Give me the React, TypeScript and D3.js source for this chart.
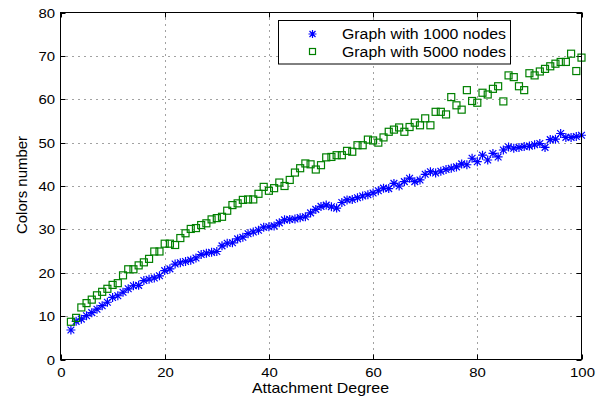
import React from 'react'
import * as d3 from 'd3';

// attachment degree 2..100
const degrees: number[] = d3.range(2, 101);

const colors1000: number[] = [
  6.8, 8.8, 9.3, 10.1, 10.8, 11.6, 12.4, 13.2, 14.3, 14.7,
  15.5, 16.3, 17.0, 17.1, 18.2, 18.5, 18.8, 19.3, 20.5, 20.9,
  22.0, 22.3, 22.6, 22.9, 23.4, 24.2, 24.5, 24.7, 24.9, 26.2,
  26.8, 26.9, 27.8, 28.2, 29.0, 29.4, 29.8, 30.5, 30.6, 30.8,
  31.5, 32.2, 32.3, 32.4, 32.7, 32.9, 33.8, 34.6, 35.3, 35.6,
  35.2, 34.9, 36.2, 36.8, 36.9, 37.3, 37.7, 38.0, 38.4, 38.9,
  39.5, 39.4, 40.6, 40.0, 41.0, 41.8, 41.0, 41.4, 42.7, 43.3,
  43.0, 43.4, 43.8, 44.1, 44.4, 45.1, 44.9, 46.4, 45.6, 47.1,
  46.0, 47.5, 46.7, 48.3, 49.0, 48.7, 48.9, 49.1, 49.2, 49.5,
  49.8, 48.9, 50.7, 50.8, 52.1, 51.2, 51.2, 51.4, 51.7
];

const colors5000: number[] = [
  8.7, 9.6, 12.0, 13.0, 13.8, 14.8, 15.6, 16.3, 17.2, 17.6,
  19.4, 20.8, 20.8, 21.7, 22.4, 23.2, 24.9, 24.9, 26.7, 26.7,
  26.4, 28.0, 29.1, 30.1, 30.3, 31.0, 31.4, 32.3, 32.6, 32.9,
  34.3, 35.6, 36.0, 36.8, 36.9, 36.9, 38.2, 39.8, 38.9, 39.5,
  40.8, 40.0, 41.4, 43.1, 44.1, 45.2, 45.0, 43.8, 44.8, 46.6,
  46.7, 47.1, 47.1, 48.1, 47.9, 49.4, 49.4, 50.7, 50.5, 50.0,
  51.2, 52.5, 53.0, 53.5, 52.5, 53.6, 54.6, 54.0, 55.6, 54.0,
  57.1, 57.1, 56.5, 60.5, 58.6, 57.6, 62.1, 59.6, 59.2, 61.5,
  61.1, 62.4, 63.0, 59.5, 65.5, 65.1, 63.0, 62.1, 66.0, 65.5,
  66.4, 67.0, 67.6, 68.2, 68.6, 68.6, 70.5, 66.5, 69.6
];

const xTicks: number[] = [0, 20, 40, 60, 80, 100];
const yTicks: number[] = [0, 10, 20, 30, 40, 50, 60, 70, 80];
const seriesNames: string[] = ['Graph with 1000 nodes', 'Graph with 5000 nodes'];

const width = 602;
const height = 397;
const font = '"Liberation Sans", Arial, Helvetica, sans-serif';

const star = (r: number) => {
  const d = r * 0.75;
  return `M${-r},0H${r}M0,${-r}V${r}M${-d},${-d}L${d},${d}M${-d},${d}L${d},${-d}`;
};

const App: React.FC = () => {
  const left = 60.5, right = 581.5, top = 12.5, bottom = 359.5;

  const x = d3.scaleLinear().domain([0, 100]).range([left, right]);
  const y = d3.scaleLinear().domain([0, 80]).range([bottom, top]);

  const blue = '#0000ff';
  const green = '#008000';

  return (
    <svg width={width} height={height} style={{position: 'absolute', left: 0, top: 0, background: '#fff'}}>
      <rect x={0} y={0} width={width} height={height} fill='#fff' />

      {/* dotted grid */}
      {xTicks.slice(1, -1).map(t => (
        <line key={'gx' + t} x1={Math.round(x(t)) + 0.5} x2={Math.round(x(t)) + 0.5} y1={top} y2={bottom}
          stroke='#444' strokeDasharray='1 5' />
      ))}
      {yTicks.slice(1, -1).map(t => (
        <line key={'gy' + t} y1={Math.round(y(t)) + 0.5} y2={Math.round(y(t)) + 0.5} x1={left} x2={right}
          stroke='#444' strokeDasharray='1 5' />
      ))}

      {/* inner ticks on all four sides */}
      {xTicks.map(t => {
        const px = Math.round(x(t)) + 0.5;
        return (
          <g key={'tx' + t}>
            <line x1={px} x2={px} y1={bottom} y2={bottom - 5} stroke='#000' />
            <line x1={px} x2={px} y1={top} y2={top + 5} stroke='#000' />
            <text x={px} y={377} textAnchor='middle' fontFamily={font} fontSize={13.5}
              textLength={String(t).length * 8.3} lengthAdjust='spacingAndGlyphs'>{t}</text>
          </g>
        );
      })}
      {yTicks.map(t => {
        const py = Math.round(y(t)) + 0.5;
        return (
          <g key={'ty' + t}>
            <line x1={left} x2={left + 5} y1={py} y2={py} stroke='#000' />
            <line x1={right} x2={right - 5} y1={py} y2={py} stroke='#000' />
            <text x={55} y={py + 4.5} textAnchor='end' fontFamily={font} fontSize={13.5}
              textLength={String(t).length * 8.3} lengthAdjust='spacingAndGlyphs'>{t}</text>
          </g>
        );
      })}

      {/* series */}
      <g>
        {degrees.map((d, i) => (
          <path key={'b' + d} d={star(4.5)} transform={`translate(${x(d)},${y(colors1000[i])})`}
            stroke={blue} strokeWidth={1.2} fill='none' />
        ))}
      </g>
      <g>
        {degrees.map((d, i) => (
          <rect key={'g' + d} x={x(d) - 3.5} y={y(colors5000[i]) - 3.5} width={7} height={7}
            stroke={green} strokeWidth={1.2} fill='none' />
        ))}
      </g>

      {/* frame */}
      <rect x={left} y={top} width={right - left} height={bottom - top} fill='none' stroke='#000' />

      {/* legend */}
      <g>
        <rect x={278.5} y={20.5} width={232} height={43.5} fill='#fff' stroke='#000' />
        <path d={star(4)} transform='translate(312.5,34)' stroke={blue} strokeWidth={1.2} fill='none' />
        <rect x={309.5} y={48.5} width={6} height={6} stroke={green} strokeWidth={1.2} fill='none' />
        {seriesNames.map((name, i) => (
          <text key={name} x={342} y={38.5 + i * 18} fontFamily={font} fontSize={14}
            textLength={164} lengthAdjust='spacingAndGlyphs'>{name}</text>
        ))}
      </g>

      {/* axis labels */}
      <text x={320.5} y={393} textAnchor='middle' fontFamily={font} fontSize={14.5}
        textLength={137} lengthAdjust='spacingAndGlyphs'>Attachment Degree</text>
      <text transform='translate(27,185) rotate(-90)' textAnchor='middle' fontFamily={font} fontSize={14.5}
        textLength={98} lengthAdjust='spacingAndGlyphs'>Colors number</text>
    </svg>
  )
}

export default App
